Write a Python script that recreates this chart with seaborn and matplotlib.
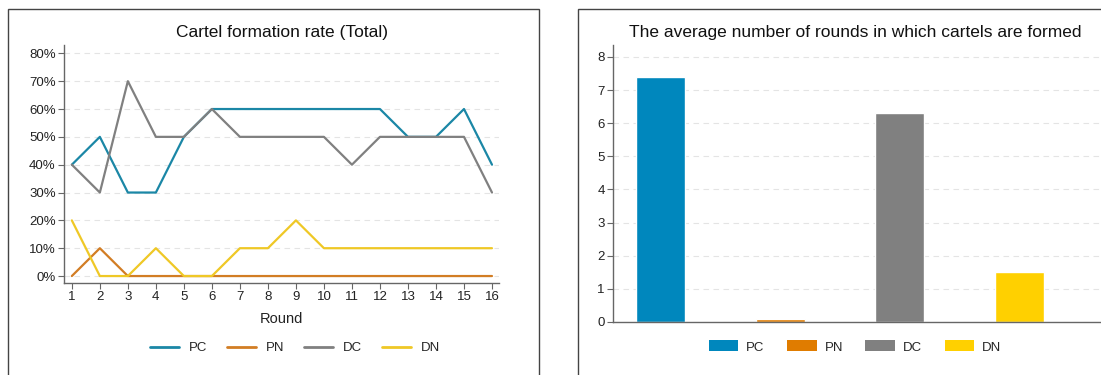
import numpy as np
import pandas as pd
import matplotlib
matplotlib.use("Agg")
import matplotlib.pyplot as plt
from matplotlib.patches import Rectangle
from matplotlib.lines import Line2D
from matplotlib.patches import Patch
import seaborn as sns

# Cartel formation rate per round (%)
rounds = list(range(1, 17))
pc_rate = [40, 50, 30, 30, 50, 60, 60, 60, 60, 60, 60, 60, 50, 50, 60, 40]
pn_rate = [0, 10, 0, 0, 0, 0, 0, 0, 0, 0, 0, 0, 0, 0, 0, 0]
dc_rate = [40, 30, 70, 50, 50, 60, 50, 50, 50, 50, 40, 50, 50, 50, 50, 30]
dn_rate = [20, 0, 0, 10, 0, 0, 10, 10, 20, 10, 10, 10, 10, 10, 10, 10]

# Average number of rounds with a cartel
treatments = ["PC", "PN", "DC", "DN"]
avg_rounds = [7.4, 0.1, 6.3, 1.5]

line_colors = ["#1b87a6", "#d27d24", "#808080", "#efc826"]
bar_colors = ["#0087bd", "#e07c00", "#808080", "#ffd000"]

sns.set_theme(style="white")
plt.rcParams["font.family"] = ["Liberation Sans", "DejaVu Sans"]

W, H = 1101, 375
fig = plt.figure(figsize=(W / 100, H / 100), dpi=100)

def fx(px):
    return px / W

def fy(py):
    return 1 - py / H

# panel frames
for x0, x1 in [(8, 539), (578, 1120)]:
    fig.add_artist(Rectangle((fx(x0), fy(390)), fx(x1 - x0), (390 - 9) / H,
                             transform=fig.transFigure, fill=False,
                             edgecolor="#444444", linewidth=1.0))

spine_col = "#666666"
grid_kw = dict(color="#e4e4e4", linestyle=(0, (5, 4)), linewidth=0.8)

# ---- left: line chart ----
ax1 = fig.add_axes([fx(64), fy(283), fx(499 - 64), (283 - 45) / H])
df = pd.DataFrame({
    "Round": rounds * 4,
    "rate": pc_rate + pn_rate + dc_rate + dn_rate,
    "group": sum([[t] * len(rounds) for t in treatments], []),
})
sns.lineplot(data=df, x="Round", y="rate", hue="group", hue_order=treatments,
             palette=line_colors, linewidth=1.6, ax=ax1, legend=False)
ax1.set_xlim(0.72, 16.25)
ax1.set_ylim(-2.5, 83)
ax1.set_xticks(rounds)
ax1.set_yticks(range(0, 81, 10))
ax1.set_yticklabels([f"{v}%" for v in range(0, 81, 10)])
ax1.yaxis.grid(True, **grid_kw)
ax1.set_axisbelow(True)
for s in ["top", "right"]:
    ax1.spines[s].set_visible(False)
for s in ["left", "bottom"]:
    ax1.spines[s].set_color(spine_col)
    ax1.spines[s].set_linewidth(1.0)
ax1.tick_params(axis="both", which="both", direction="out", length=4, width=0.8,
                color=spine_col, labelsize=9.5, labelcolor="#222222", pad=2,
                left=True, bottom=True)
ax1.set_xlabel("Round", fontsize=10.5, color="#222222", labelpad=6)
ax1.set_ylabel("")
fig.text(fx(282), fy(32), "Cartel formation rate (Total)", ha="center", va="center",
         fontsize=12.5, color="#111111")
handles1 = [Line2D([0], [0], color=c, linewidth=2) for c in line_colors]
fig.legend(handles1, treatments, loc="center", bbox_to_anchor=(fx(295), fy(348)),
           ncol=4, frameon=False, fontsize=9.5, handlelength=2.2, columnspacing=1.5,
           handletextpad=0.75)

# ---- right: bar chart ----
ax2 = fig.add_axes([fx(613), fy(322), 1 - fx(613), (322 - 45) / H])
bdf = pd.DataFrame({"group": treatments, "avg": avg_rounds})
sns.barplot(data=bdf, x="group", y="avg", hue="group", order=treatments,
            hue_order=treatments, palette=bar_colors, width=0.41,
            saturation=1, ax=ax2, legend=False)
ax2.set_xlim(-0.396, 3.68)
ax2.set_ylim(0, 8.36)
ax2.set_yticks(range(0, 9))
ax2.set_xticks([])
ax2.yaxis.grid(True, **grid_kw)
ax2.set_axisbelow(True)
for s in ["top", "right"]:
    ax2.spines[s].set_visible(False)
for s in ["left", "bottom"]:
    ax2.spines[s].set_color(spine_col)
    ax2.spines[s].set_linewidth(1.0)
ax2.tick_params(axis="y", direction="out", length=4, width=0.8, color=spine_col,
                labelsize=9.5, labelcolor="#222222", pad=2, left=True)
ax2.set_xlabel("")
ax2.set_ylabel("")
fig.text(fx(855), fy(32), "The average number of rounds in which cartels are formed",
         ha="center", va="center", fontsize=12.5, color="#111111")
handles2 = [Patch(facecolor=c, edgecolor="none") for c in bar_colors]
fig.legend(handles2, treatments, loc="center", bbox_to_anchor=(fx(855), fy(347)),
           ncol=4, frameon=False, fontsize=9.5, handlelength=2.25, handleheight=0.9,
           columnspacing=1.7, handletextpad=0.6)

fig.savefig("out.png", dpi=100, facecolor="white")
